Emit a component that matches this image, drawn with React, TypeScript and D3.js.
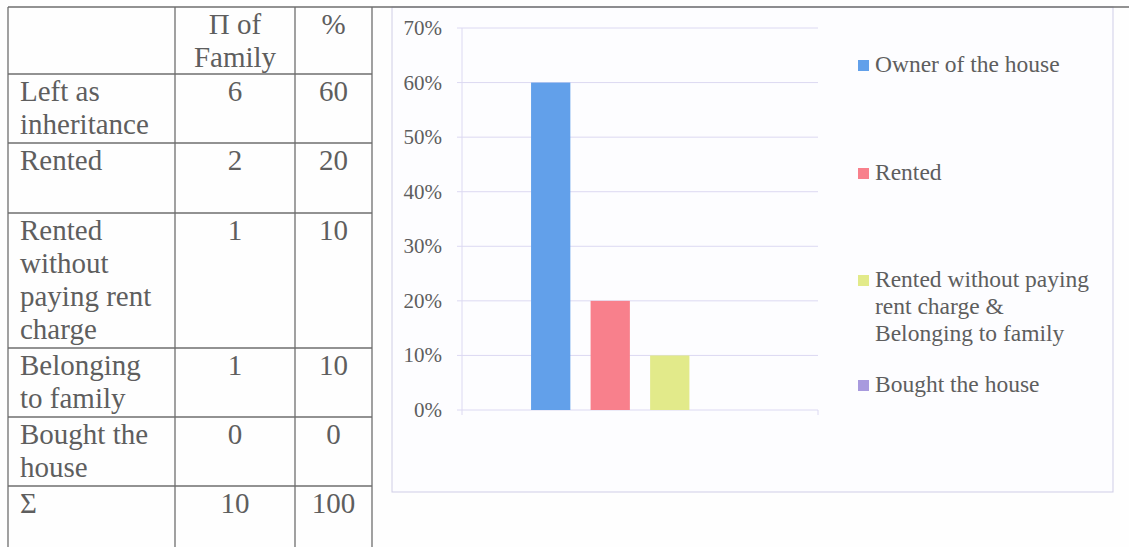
import React from "react";
import * as d3 from "d3";

// ---- Data ----
const tableHeader: string[][] = [[""], ["Π of", "Family"], ["%"]];
const tableRowLabels: string[][] = [
  ["Left as", "inheritance"],
  ["Rented"],
  ["Rented", "without", "paying rent", "charge"],
  ["Belonging", "to family"],
  ["Bought the", "house"],
  ["Σ"],
];
const tableFamilies: string[] = ["6", "2", "1", "1", "0", "10"];
const tablePercents: string[] = ["60", "20", "10", "10", "0", "100"];

const seriesNames: string[] = [
  "Owner of the house",
  "Rented",
  "Rented without paying rent charge & Belonging to family",
  "Bought the house",
];
const legendLines: string[][] = [
  ["Owner of the house"],
  ["Rented"],
  ["Rented without paying", "rent charge &", "Belonging to family"],
  ["Bought the house"],
];
const seriesValues: number[] = [0.6, 0.2, 0.1, 0];
const seriesColors: string[] = ["#62a0ea", "#f8808c", "#e2ea8a", "#a89ade"];
const yTicks: number[] = [0, 0.1, 0.2, 0.3, 0.4, 0.5, 0.6, 0.7];

// ---- Layout ----
const W = 1129;
const H = 547;
const FONT = "'Liberation Serif', 'Times New Roman', serif";
const TEXT = "#5e5e5e";
const colX = [8, 175, 295, 372];
const rowY = [7, 74, 143, 213, 348, 417, 486, 560];
const LINE = 33;
const BASE = 27;

const plot = { left: 462, right: 818, top: 28, bottom: 410 };
const legendFirstBaselines = [72, 180, 287, 392];

export default function App() {
  const y = d3.scaleLinear().domain([0, 0.7]).range([plot.bottom, plot.top]);
  const x = d3
    .scaleBand<string>()
    .domain(seriesNames)
    .range([plot.left, plot.right])
    .paddingInner(0.34)
    .paddingOuter(1.16);
  const fmt = d3.format(".0%");

  const cellText = (lines: string[], cx: number, top: number, anchor: "start" | "middle", key: string) => (
    <text key={key} x={cx} y={top + BASE} textAnchor={anchor} fontSize={29} fill={TEXT} fontFamily={FONT}>
      {lines.map((l, i) => (
        <tspan key={i} x={cx} dy={i === 0 ? 0 : LINE}>
          {l}
        </tspan>
      ))}
    </text>
  );

  return (
    <svg
      width={W}
      height={H}
      style={{ position: "absolute", left: 0, top: 0, background: "#fefefe" }}
      fontFamily={FONT}
    >
      {/* Chart frame */}
      <rect x={392} y={7} width={721} height={485} fill="#fdfdff" stroke="#cfcde6" strokeWidth={1} />

      {/* Table */}
      <g stroke="#6e6e6e" strokeWidth={1.3}>
        {colX.map((cx, i) => (
          <line key={"c" + i} x1={cx} x2={cx} y1={rowY[0]} y2={H + 5} />
        ))}
        {rowY.slice(0, -1).map((ry, i) => (
          <line key={"r" + i} x1={colX[0]} x2={i === 0 ? W : colX[3]} y1={ry} y2={ry} />
        ))}
      </g>
      {tableHeader.map((lines, i) =>
        cellText(lines, (colX[i] + colX[i + 1]) / 2, rowY[0], "middle", "h" + i)
      )}
      {tableRowLabels.map((lines, i) => cellText(lines, colX[0] + 12, rowY[i + 1], "start", "l" + i))}
      {tableFamilies.map((v, i) => cellText([v], (colX[1] + colX[2]) / 2, rowY[i + 1], "middle", "f" + i))}
      {tablePercents.map((v, i) => cellText([v], (colX[2] + colX[3]) / 2, rowY[i + 1], "middle", "p" + i))}

      {/* Gridlines & y axis */}
      <g>
        {yTicks.map((t) => (
          <g key={t}>
            <line x1={plot.left - 5} x2={plot.right} y1={y(t)} y2={y(t)} stroke="#dcd9f2" strokeWidth={1} />
            <text x={442} y={y(t) + 7} textAnchor="end" fontSize={21} fill={TEXT}>
              {fmt(t)}
            </text>
          </g>
        ))}
        <line x1={plot.left} x2={plot.left} y1={plot.top} y2={plot.bottom} stroke="#dcd9f2" />
        <line x1={plot.right} x2={plot.right} y1={plot.bottom} y2={plot.bottom + 5} stroke="#dcd9f2" />
        <line x1={plot.left} x2={plot.left} y1={plot.bottom} y2={plot.bottom + 5} stroke="#dcd9f2" />
      </g>

      {/* Bars */}
      {seriesNames.map((s, i) => (
        <rect
          key={s}
          x={x(s)}
          y={y(seriesValues[i])}
          width={x.bandwidth()}
          height={plot.bottom - y(seriesValues[i])}
          fill={seriesColors[i]}
        />
      ))}

      {/* Legend */}
      {legendLines.map((lines, i) => (
        <g key={i}>
          <rect x={858} y={legendFirstBaselines[i] - 12} width={11} height={11} fill={seriesColors[i]} />
          <text x={875} y={legendFirstBaselines[i]} fontSize={23.5} fill={TEXT}>
            {lines.map((l, j) => (
              <tspan key={j} x={875} dy={j === 0 ? 0 : 27}>
                {l}
              </tspan>
            ))}
          </text>
        </g>
      ))}
    </svg>
  );
}
